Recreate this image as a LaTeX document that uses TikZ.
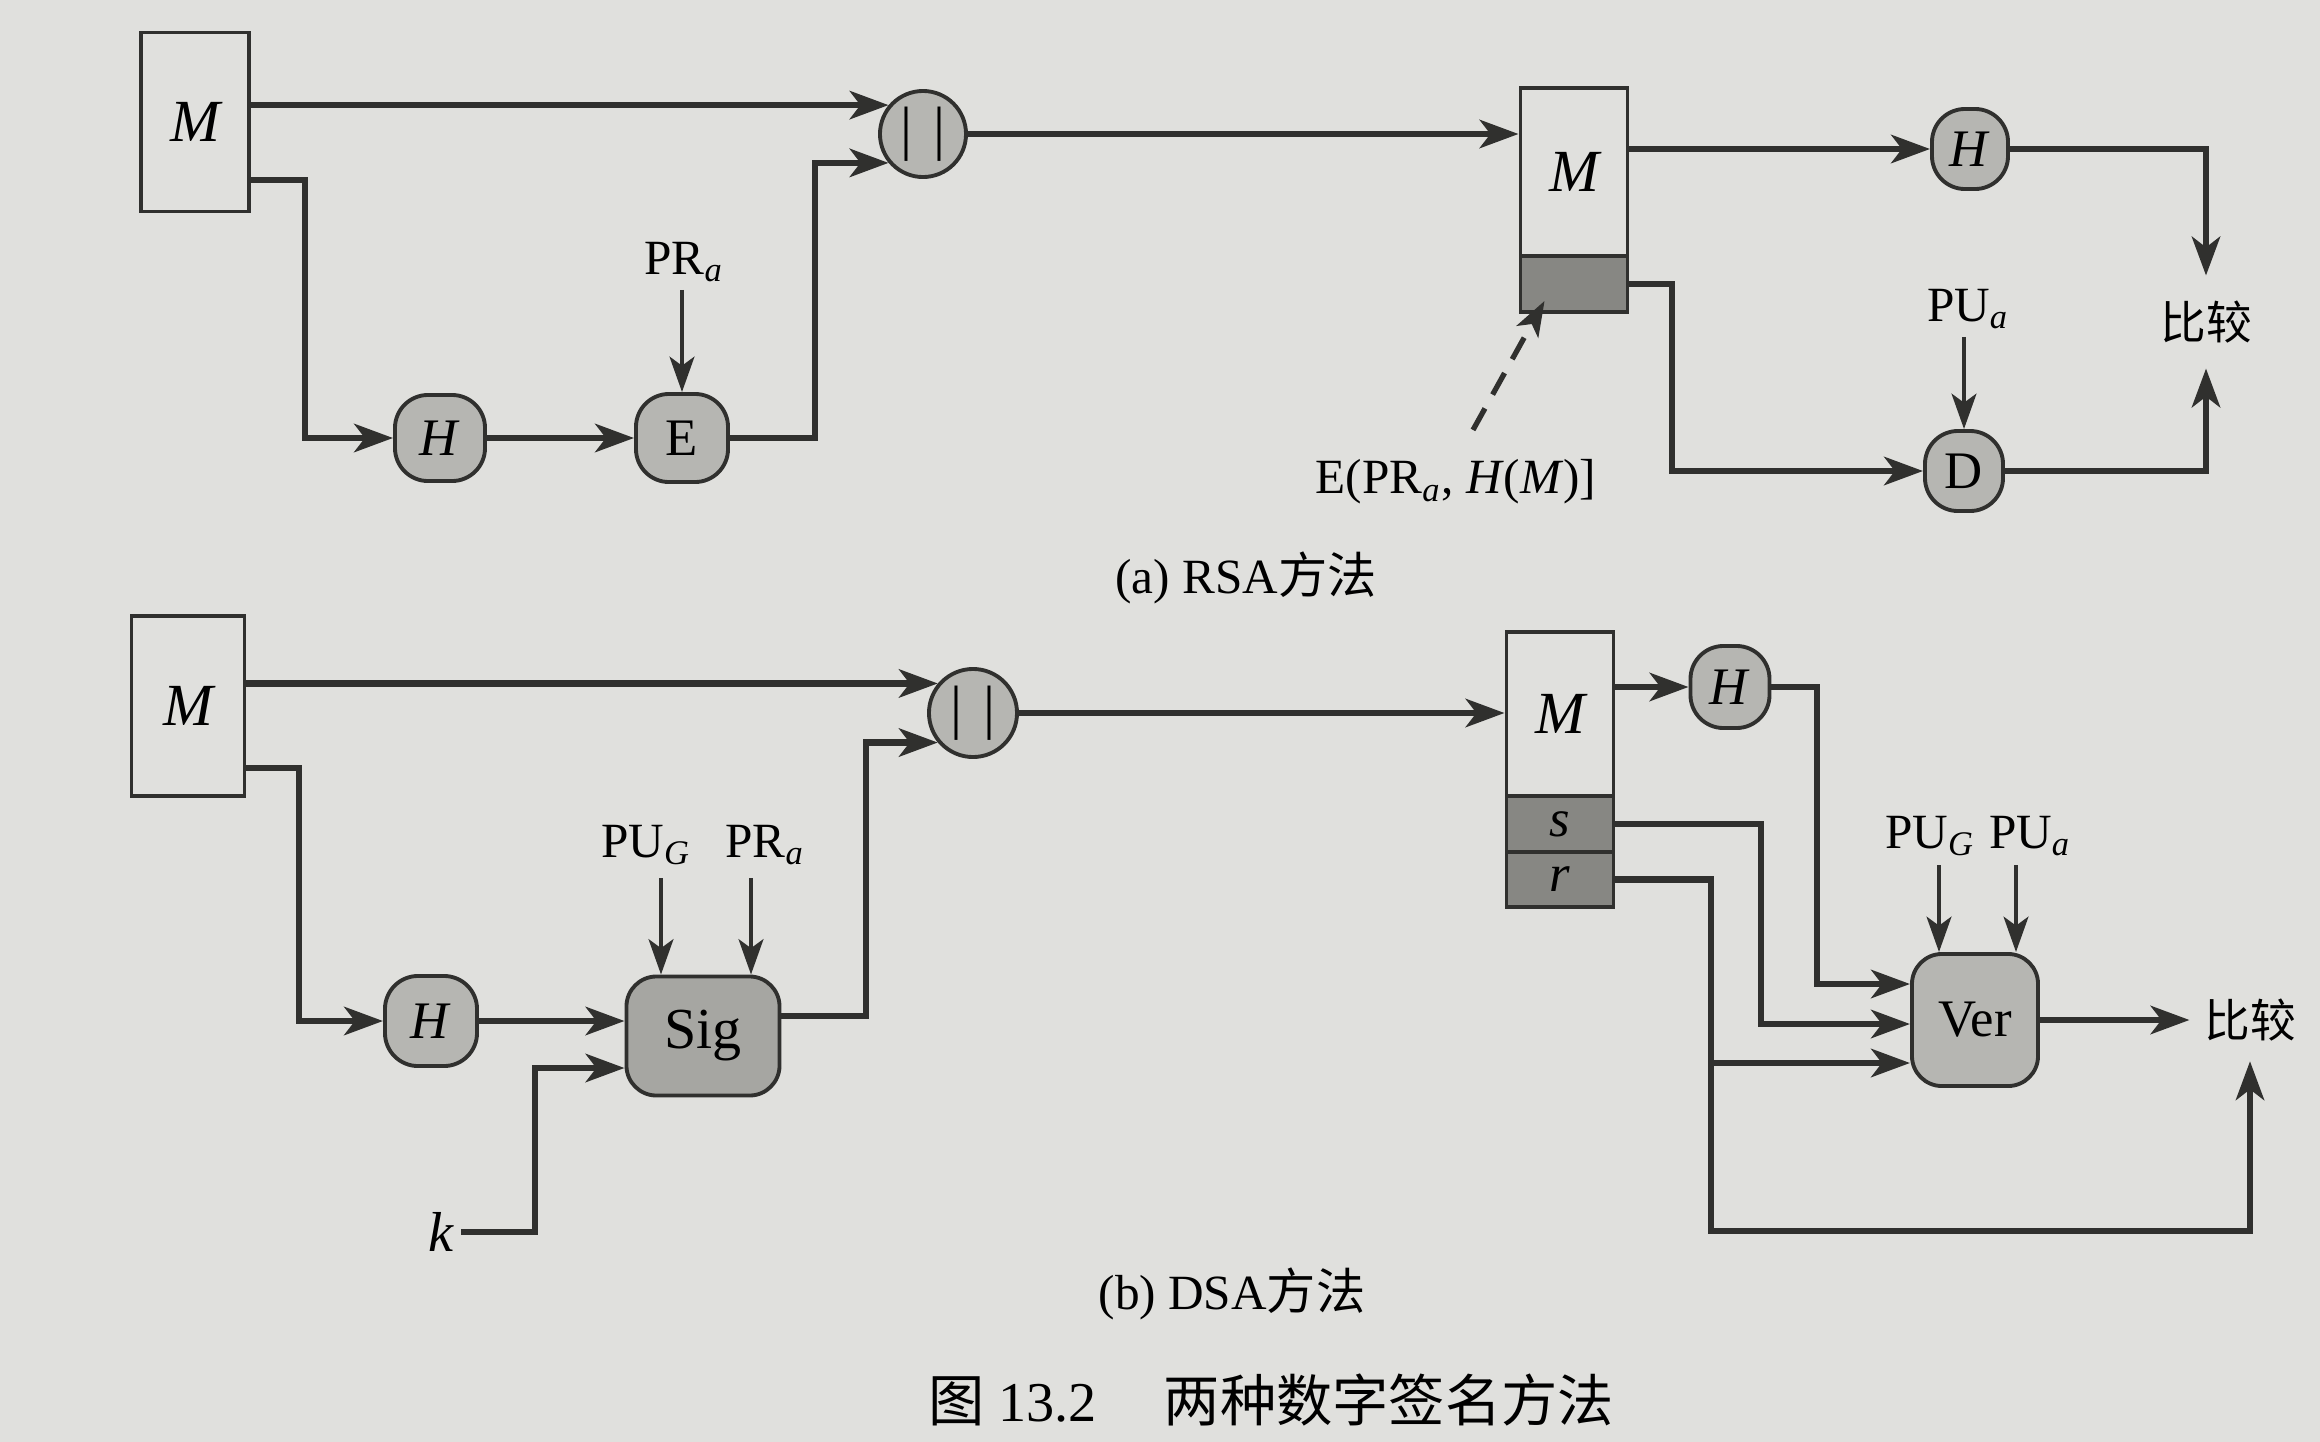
\documentclass[tikz,border=0pt]{standalone}
\usepackage{fontspec}
\setmainfont{Liberation Serif}
\newfontfamily\cjk{Noto Sans CJK SC}
\usetikzlibrary{arrows.meta,calc}
\definecolor{paper}{RGB}{224,224,221}
\definecolor{ngray}{RGB}{182,182,178}
\definecolor{sgray}{RGB}{166,166,162}
\definecolor{dgray}{RGB}{135,135,131}
\definecolor{ink}{RGB}{48,48,46}
\begin{document}
\begin{tikzpicture}[x=0.01cm,y=-0.01cm,
  conn/.style={draw=ink,line width=1.9pt,-{Stealth[length=11pt,width=8pt,inset=3pt]}},
  keyarr/.style={draw=ink,line width=1.4pt,-{Stealth[length=10pt,width=7pt,inset=2.5pt]}},
  sigarr/.style={draw=ink,line width=1.5pt,dash pattern=on 7pt off 4.5pt,-{Stealth[length=10pt,width=7pt,inset=2.5pt]}},
  msgbox/.style={draw=ink,line width=1.1pt,inner sep=0pt,font=\fontsize{17}{20}\selectfont\itshape},
  sigpart/.style={draw=ink,line width=1.1pt,fill=dgray,inner sep=0pt,minimum width=1.07cm,font=\fontsize{15}{18}\selectfont\itshape},
  fnode/.style={draw=ink,line width=1.1pt,fill=ngray,inner sep=0pt,rounded corners=0.33cm,font=\fontsize{15}{18}\selectfont},
  bignode/.style={draw=ink,line width=1.1pt,fill=sgray,inner sep=0pt,rounded corners=0.3cm,font=\fontsize{15}{18}\selectfont},
  joinnode/.style={circle,draw=ink,line width=1.1pt,fill=ngray,inner sep=0pt,minimum size=0.86cm,font=\fontsize{17}{19}\selectfont},
  lbl/.style={inner sep=2pt,font=\fontsize{14}{16}\selectfont},
  cmp/.style={inner xsep=4pt,inner ysep=7pt,font=\cjk\fontsize{13}{15}\selectfont},
  captxt/.style={inner sep=0pt,font=\fontsize{14}{16}\selectfont},
]
\useasboundingbox (0,0) rectangle (2320,1442);
\fill[paper] (0,0) rectangle (2320,1442);

% ---------------- (a) RSA ----------------
\node[msgbox,minimum width=1.08cm,minimum height=1.79cm] (M1) at (195,122) {M};
\node[joinnode] (C1) at (923,134) {|\hspace{6pt}|};
\node[fnode,minimum width=0.9cm,minimum height=0.86cm] (H1) at (440,438) {\textit{H}};
\node[fnode,minimum width=0.92cm,minimum height=0.88cm] (E) at (682,438) {E};
\node[lbl] (PRa) at (684,262) {PR\textsubscript{\textit{a}}};
\node[msgbox,minimum width=1.07cm,minimum height=1.68cm] (M2) at (1574,172) {M};
\node[sigpart,minimum height=0.56cm] (S2) at (1574,284) {};
\node[fnode,minimum width=0.76cm,minimum height=0.8cm] (H2) at (1970,149) {\textit{H}};
\node[fnode,minimum width=0.78cm,minimum height=0.8cm] (D) at (1964,471) {D};
\node[lbl] (PUa) at (1968,309) {PU\textsubscript{\textit{a}}};
\node[cmp] (cmpA) at (2206,322) {比较};
\node[lbl] (sigA) at (1456,482) {E(PR\textsubscript{\textit{a}}, \textit{H}(\textit{M})]};
\node[captxt] (capA) at (1246,578) {(a) RSA{\cjk 方法}};

\coordinate (a1) at (305,180);
\coordinate (a2) at (815,0);
\coordinate (a3) at (1672,471);
\draw[conn] (M1.east |- C1.140) -- (C1.140);
\draw[conn] (M1.east |- a1) -- (a1) |- (H1.west);
\draw[conn] (H1.east) -- (E.west);
\draw[keyarr] (E.north |- PRa.south) -- (E.north);
\draw[conn] (E.east) -| (a2 |- C1.220) -- (C1.220);
\draw[conn] (C1.east) -- (C1.east -| M2.west);
\draw[conn] (M2.east |- H2.west) -- (H2.west);
\draw[conn] (H2.east) -| (cmpA.north);
\draw[conn] (S2.east) -| (a3) -- (D.west);
\draw[keyarr] (D.north |- PUa.south) -- (D.north);
\draw[conn] (D.east) -| (cmpA.south);
\draw[sigarr] ($(sigA.north)+(17,-22)$) -- ($(S2.south west)+(26,-13)$);

% ---------------- (b) DSA ----------------
\node[msgbox,minimum width=1.13cm,minimum height=1.8cm] (M3) at (188,706) {M};
\node[joinnode,minimum size=0.88cm] (C2) at (973,713) {|\hspace{6pt}|};
\node[fnode,minimum width=0.92cm,minimum height=0.9cm] (H3) at (431,1021) {\textit{H}};
\node[bignode,font=\fontsize{16.5}{19}\selectfont,minimum width=1.53cm,minimum height=1.19cm] (Sig) at (703,1036) {Sig};
\node[lbl,font=\fontsize{16}{18}\selectfont\itshape] (k) at (441,1232) {k};
\node[lbl] (PUG) at (646,845) {PU\textsubscript{\textit{G}}};
\node[lbl] (PRb) at (765,845) {PR\textsubscript{\textit{a}}};
\node[msgbox,minimum width=1.07cm,minimum height=1.64cm] (M4) at (1560,714) {M};
\node[sigpart,minimum height=0.56cm] (Ms) at (1560,824) {s};
\node[sigpart,minimum height=0.55cm] (Mr) at (1560,879.5) {r};
\node[fnode,minimum width=0.79cm,minimum height=0.82cm] (H4) at (1730,687) {\textit{H}};
\node[bignode,fill=ngray,minimum width=1.26cm,minimum height=1.32cm] (Ver) at (1975,1020) {Ver};
\node[lbl] (PUG2) at (1930,836) {PU\textsubscript{\textit{G}}};
\node[lbl] (PUa2) at (2030,836) {PU\textsubscript{\textit{a}}};
\node[cmp,inner ysep=5.5pt] (cmpB) at (2250,1020) {比较};
\node[captxt] (capB) at (1232,1294) {(b) DSA{\cjk 方法}};
\node[captxt,font=\fontsize{16}{18}\selectfont] (fig) at (1271,1400) {{\cjk 图} 13.2\hspace{19pt}{\cjk 两种数字签名方法}};

\coordinate (b1) at (299,768);
\coordinate (b2) at (535,1068);
\coordinate (b3) at (661,878);
\coordinate (b4) at (751,878);
\coordinate (b5) at (866,1016);
\coordinate (b6) at (1817,984);
\coordinate (b7) at (1761,1024);
\coordinate (b8) at (1711,1063);
\coordinate (b9) at (1711,1231);
\coordinate (b10) at (1939,865);
\coordinate (b11) at (2016,865);

\draw[conn] (M3.east |- C2.140) -- (C2.140);
\draw[conn] (M3.east |- b1) -- (b1) |- (H3.west);
\draw[conn] (H3.east) -- (H3.east -| Sig.west);
\draw[conn] (k.east) -| (b2) -- (b2 -| Sig.west);
\draw[keyarr] (b3) -- (b3 |- Sig.north);
\draw[keyarr] (b4) -- (b4 |- Sig.north);
\draw[conn] (Sig.east |- b5) -- (b5) |- (C2.220);
\draw[conn] (C2.east) -- (C2.east -| M4.west);
\draw[conn] (M4.east |- H4.west) -- (H4.west);
\draw[conn] (H4.east) -| (b6) -- (b6 -| Ver.west);
\draw[conn] (Ms.east) -| (b7) -- (b7 -| Ver.west);
\draw[conn] (Mr.east) -| (b9) -| (cmpB.south);
\draw[conn] (b8) -- (b8 -| Ver.west);
\draw[keyarr] (b10) -- (b10 |- Ver.north);
\draw[keyarr] (b11) -- (b11 |- Ver.north);
\draw[conn] (Ver.east) -- (Ver.east -| cmpB.west);
\end{tikzpicture}
\end{document}
